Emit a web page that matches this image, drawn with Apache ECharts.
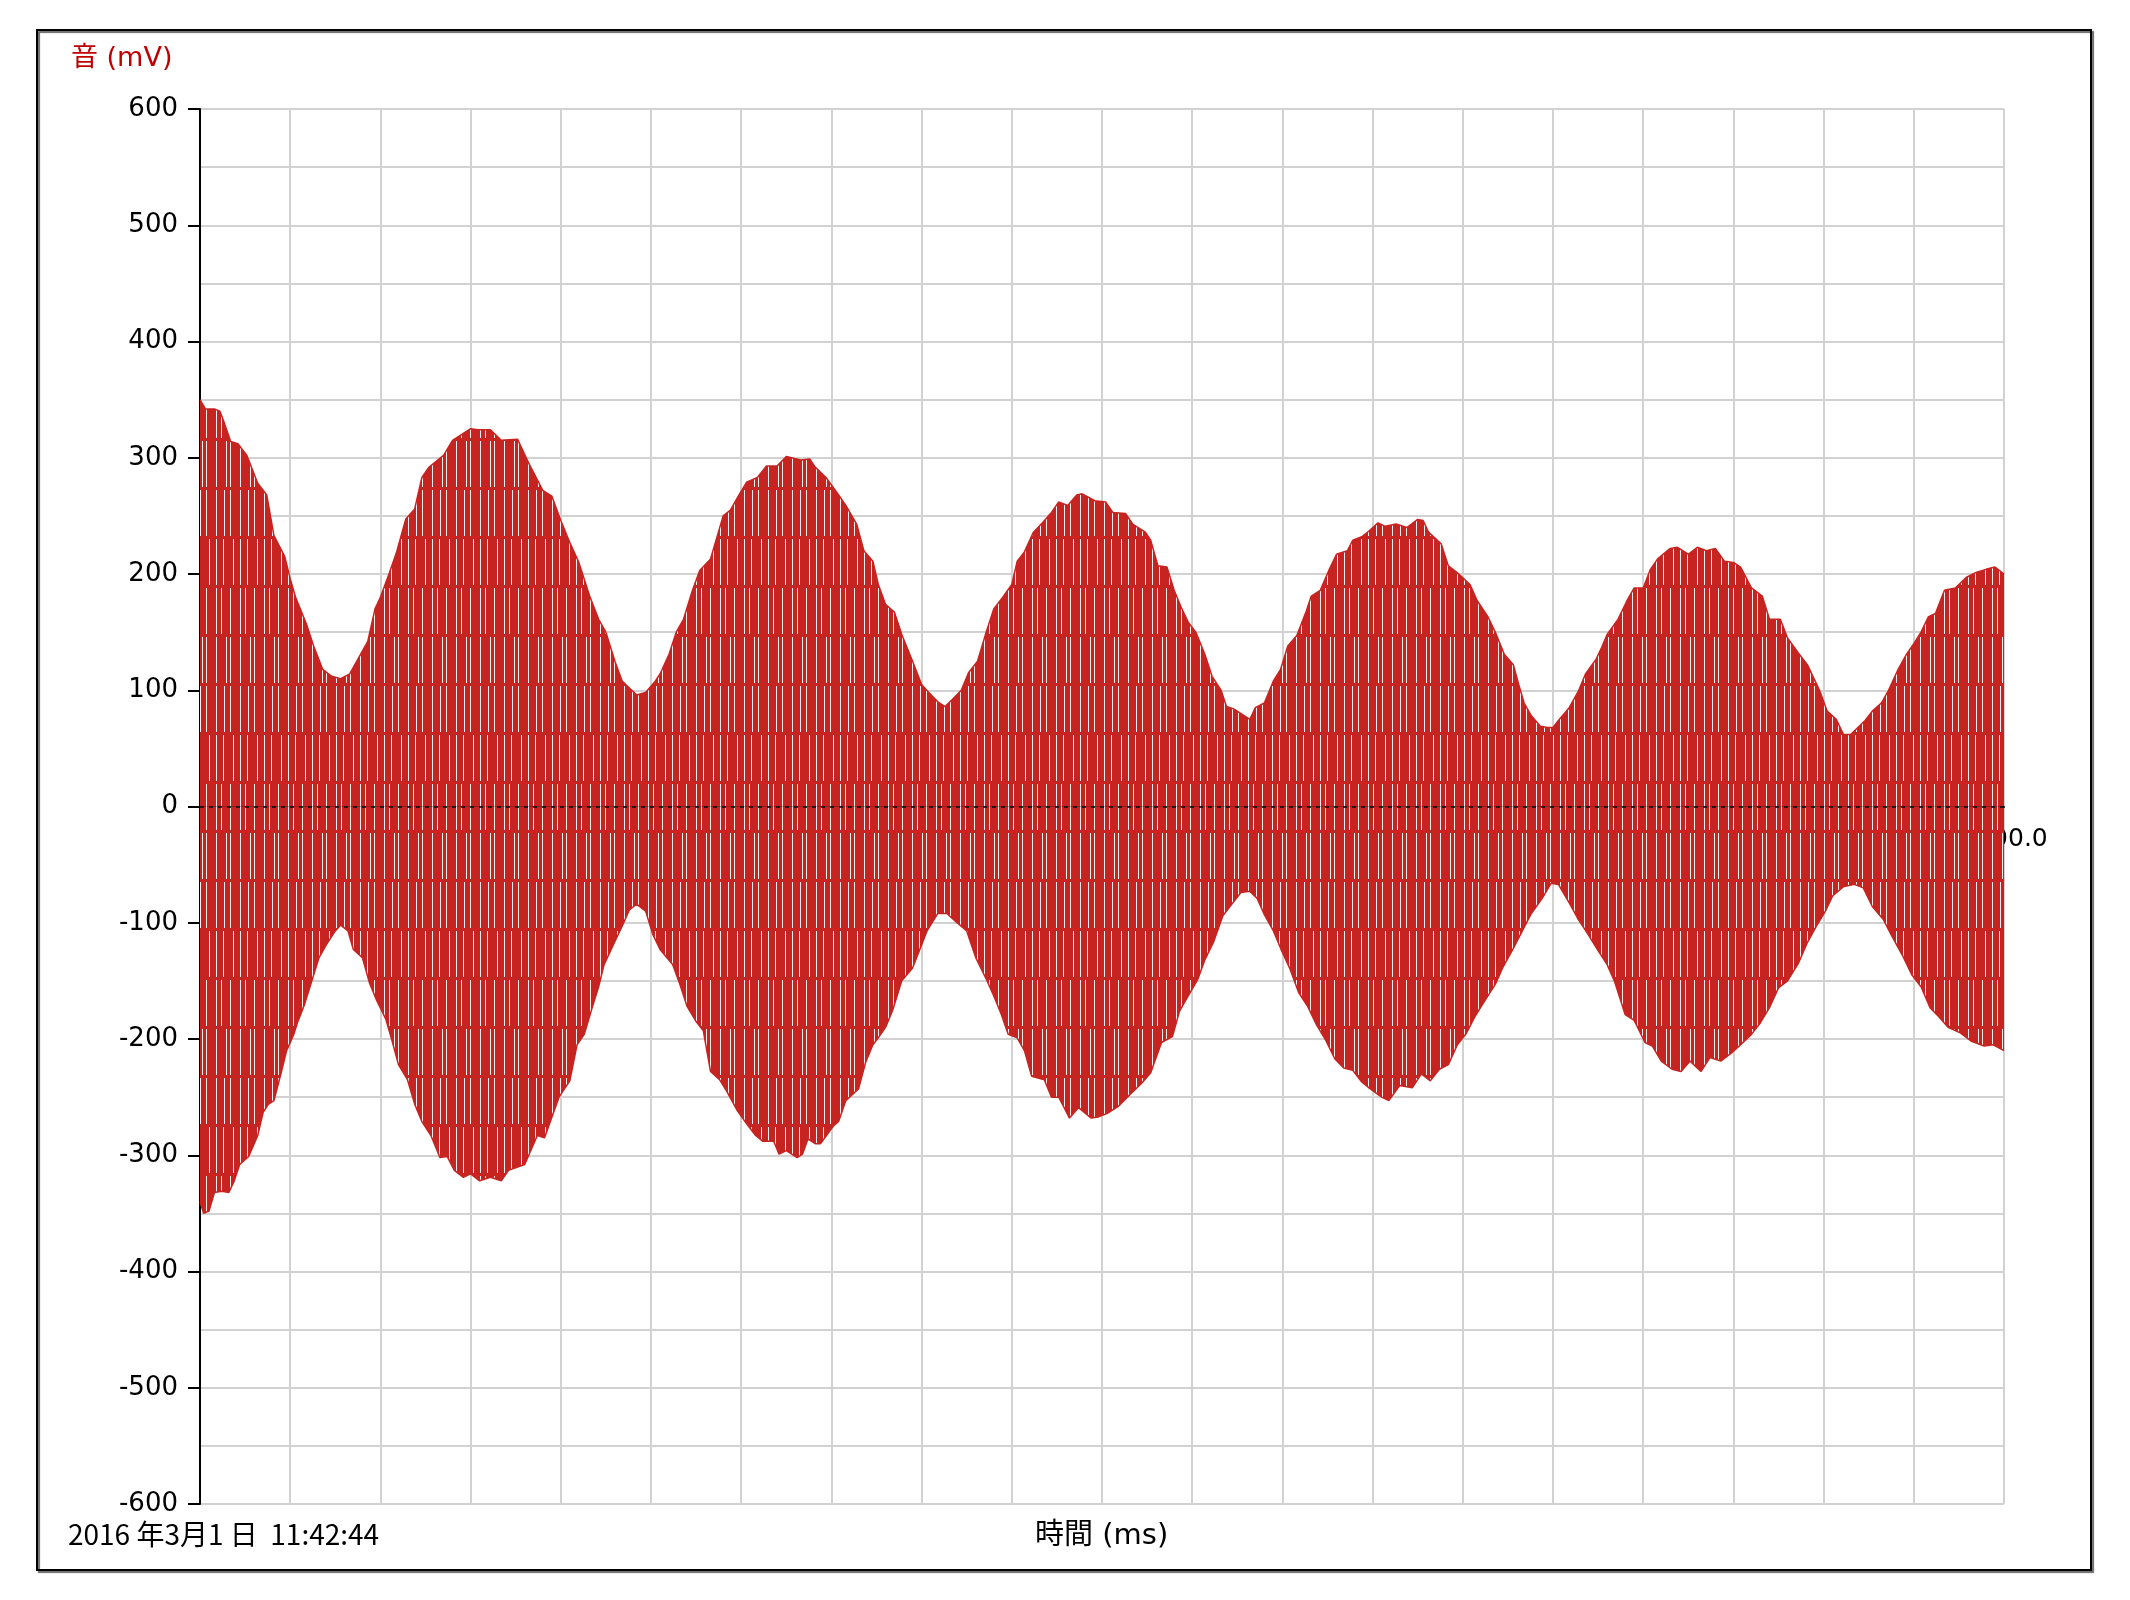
<!DOCTYPE html>
<html><head><meta charset="utf-8">
<script src="https://cdn.jsdelivr.net/npm/echarts@6/dist/echarts.min.js"></script>
<style>html,body{margin:0;padding:0;background:#fff}#c{width:2130px;height:1600px}</style>
</head><body><div id="c"></div>
<script>
// Upper envelope (peak tips): time (ms) and voltage (mV)
const upperT = [0,3,8,11,13,17,21,26,32,37,41,47,50,53,59,63,68,73,78,83,88,93,97,100,105,109,114,119,123,127,135,140,146,150,154,161,167,176,182,190,195,200,205,210,216,221,225,230,234,238,242,247,252,255,260,264,268,273,277,283,290,294,298,303,309,314,320,325,333,338,341,347,354,358,364,368,373,376,380,385,389,395,400,404,409,413,417,422,426,431,436,440,445,450,453,457,462,467,472,476,481,486,489,496,502,506,513,517,524,527,531,536,540,544,548,552,557,561,566,569,573,579,582,585,590,595,599,603,608,613,616,621,626,630,636,639,644,648,653,657,663,669,675,678,681,688,692,697,704,708,714,718,723,728,731,734,738,743,747,750,753,759,764,768,774,777,780,786,791,795,800,804,808,815,819,825,830,835,840,845,850,854,860,866,870,876,880,886,891,898,902,907,911,915,919,923,927,932,936,941,946,950,954,958,962,967,973,979,984,990,995,1000];
const upperV = [350,342,342,340,332,314,312,302,278,268,233,215,196,180,157,138,118,112,110,114,128,142,170,180,201,219,247,256,283,292,302,315,321,325,324,324,315,316,296,272,267,246,227,210,181,161,150,125,108,102,96,98,107,114,131,150,161,186,203,213,250,255,266,279,283,293,293,301,298,299,292,283,268,259,243,220,211,191,174,167,148,125,105,98,90,86,92,100,115,125,151,170,180,191,211,219,236,244,253,262,259,268,269,263,262,253,252,243,236,229,207,206,186,171,158,150,131,112,100,86,84,78,75,85,89,108,118,138,147,167,181,186,204,217,220,229,232,237,244,241,243,240,247,246,236,226,207,201,191,177,163,150,131,122,105,89,78,69,68,68,74,85,99,114,127,137,148,161,177,188,188,204,213,222,223,217,223,220,222,211,210,206,188,181,161,161,145,132,122,99,82,75,62,62,68,74,82,89,100,117,131,140,150,163,166,186,188,197,201,204,206,200];
// Lower envelope (trough tips)
const lowerT = [0,2,5,8,12,16,19,22,27,32,35,38,41,45,48,52,54,58,62,66,70,75,78,82,85,90,94,98,103,106,110,115,119,123,128,133,137,141,146,150,155,161,167,171,180,187,191,199,205,209,213,218,221,224,230,234,238,242,247,251,255,262,266,270,275,279,283,288,292,298,303,308,312,318,321,325,331,334,337,341,344,351,354,358,365,369,373,376,380,384,389,395,399,403,409,414,419,425,430,436,440,444,448,453,457,461,468,472,476,482,487,494,498,503,509,516,522,527,533,539,543,547,553,557,562,567,572,577,582,586,590,595,599,604,609,614,619,624,629,634,639,644,648,655,659,665,672,677,682,687,692,697,702,707,711,718,722,728,733,738,744,749,753,759,764,769,775,780,784,790,795,801,805,810,816,821,826,832,837,843,849,854,860,865,870,875,880,886,891,896,901,905,911,917,922,927,933,938,944,949,954,959,964,969,976,982,989,994,1000];
const lowerV = [-340,-350,-348,-332,-331,-332,-322,-308,-301,-283,-263,-256,-253,-229,-210,-196,-186,-170,-150,-130,-119,-107,-102,-107,-123,-130,-152,-167,-183,-199,-222,-235,-256,-271,-283,-302,-301,-313,-319,-316,-322,-319,-322,-313,-308,-283,-285,-250,-236,-205,-196,-170,-155,-136,-116,-103,-89,-84,-90,-110,-123,-136,-153,-172,-185,-193,-228,-235,-245,-262,-273,-283,-288,-288,-299,-296,-302,-299,-286,-290,-290,-275,-271,-253,-243,-220,-205,-199,-190,-175,-150,-139,-123,-107,-92,-92,-99,-107,-130,-149,-163,-178,-196,-199,-210,-232,-235,-250,-250,-268,-259,-268,-267,-264,-258,-247,-238,-229,-203,-198,-176,-165,-149,-132,-116,-94,-84,-74,-73,-79,-93,-107,-122,-139,-160,-172,-188,-201,-217,-225,-227,-237,-242,-250,-253,-240,-242,-230,-236,-226,-222,-205,-195,-180,-170,-153,-139,-122,-107,-92,-79,-66,-67,-83,-97,-109,-124,-136,-150,-179,-184,-203,-206,-219,-226,-228,-219,-228,-216,-219,-212,-205,-196,-186,-173,-156,-150,-135,-117,-103,-90,-77,-69,-67,-70,-86,-97,-112,-129,-145,-155,-173,-181,-190,-195,-202,-206,-205,-210];
// Axis ranges / ticks
const yRange = [-600, 600, 100];
const xRange = [0, 1000, 100];
const yAxisTitle = '音 (mV)';
const xAxisTitle = '時間 (ms)';
const stampText = '2016 年3月1 日  11:42:44';

const RED = '#c62420';
const GRID = '#d2d2d2';
const GRID_TOP = 109, GRID_BOTTOM = 96, H = 1600;
const zeroOffset = -((H - GRID_TOP - GRID_BOTTOM) * (0 - yRange[0]) / (yRange[1] - yRange[0]));

const chart = echarts.init(document.getElementById('c'), null, {renderer: 'canvas', width: 2130, height: 1600});
const upperData = upperT.map((t, i) => [t, upperV[i]]);
const lowerData = lowerT.map((t, i) => [t, lowerV[i]]);
// texture of the dense waveform (thin white gaps between the strokes)
const stripes = {
  symbol: 'rect', symbolSize: 1, color: 'rgba(255,255,255,0.92)',
  dashArrayX: [[1, 6, 1, 9, 1, 6], [1, 4, 1, 8, 1, 9], [1, 9, 1, 3, 1, 9], [1, 7, 1, 5, 1, 9]],
  dashArrayY: [46, 3], rotation: 0
};
const envSeries = (name, data, extra) => Object.assign({
  name, type: 'line', data, showSymbol: false, symbol: 'none', smooth: false,
  lineStyle: {color: RED, width: 1.5},
  itemStyle: {color: RED, decal: stripes},
  areaStyle: {color: RED, opacity: 1, origin: 0},
  silent: true, z: 2
}, extra || {});

chart.setOption({
  animation: false,
  backgroundColor: '#fff',
  grid: {left: 200, right: 126, top: GRID_TOP, bottom: GRID_BOTTOM, containLabel: false},
  xAxis: {
    type: 'value', min: xRange[0], max: xRange[1], interval: xRange[2],
    offset: zeroOffset,
    axisLine: {onZero: false, lineStyle: {color: '#000', width: 2}},
    axisTick: {show: false},
    axisLabel: {show: true, showMinLabel: false, formatter: v => v.toFixed(1), color: '#000',
      fontFamily: 'DejaVu Sans', fontSize: 25, margin: 20},
    splitLine: {show: true, lineStyle: {color: GRID, width: 2}},
    minorTick: {show: false, splitNumber: 2},
    minorSplitLine: {show: true, lineStyle: {color: GRID, width: 2}}
  },
  yAxis: {
    type: 'value', min: yRange[0], max: yRange[1], interval: yRange[2],
    axisLine: {show: true, onZero: false, lineStyle: {color: '#000', width: 2}},
    axisTick: {show: true, length: 12, lineStyle: {color: '#000', width: 2}},
    axisLabel: {color: '#000', fontFamily: 'DejaVu Sans', fontSize: 26, margin: 22},
    splitLine: {show: true, lineStyle: {color: GRID, width: 2}},
    minorTick: {show: false, splitNumber: 2},
    minorSplitLine: {show: true, lineStyle: {color: GRID, width: 2}}
  },
  series: [
    envSeries('upper', upperData, {
      markLine: {silent: true, symbol: ['none', 'none'], animation: false,
        label: {show: false}, lineStyle: {color: '#111', width: 2, type: [4, 5], opacity: 0.85},
        data: [{yAxis: 0}]}
    }),
    envSeries('lower', lowerData)
  ],
  graphic: [
    {type: 'rect', shape: {x: 37, y: 30, width: 2054, height: 1540},
      style: {fill: 'none', stroke: '#000', lineWidth: 2, shadowColor: 'rgba(0,0,0,0.6)', shadowOffsetX: 2, shadowOffsetY: 2, shadowBlur: 1}, silent: true},
    {type: 'text', left: 71, top: 45, style: {text: yAxisTitle, fill: '#c00000',
      font: '27px "DejaVu Sans", "Noto Sans CJK JP"'}, silent: true},
    {type: 'text', left: 68, top: 1520, style: {text: stampText, fill: '#000',
      font: '28px "Noto Sans CJK JP"'}, silent: true},
    {type: 'text', left: 1035, top: 1522, style: {text: xAxisTitle, fill: '#000',
      font: '29px "DejaVu Sans", "Noto Sans CJK JP"'}, silent: true}
  ]
});
</script></body></html>
